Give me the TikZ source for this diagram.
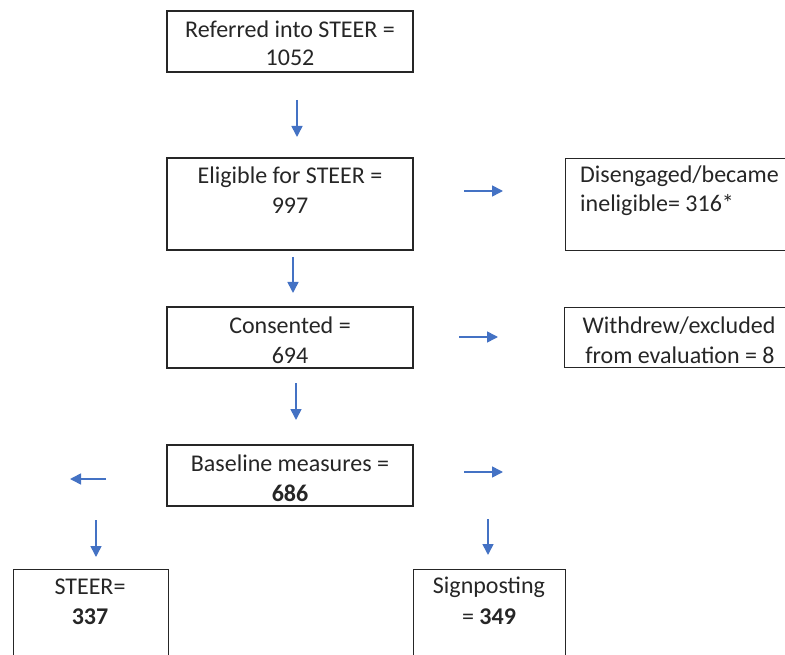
\documentclass[tikz,border=0pt]{standalone}
\usepackage{fontspec}
\setmainfont{Carlito}
\usetikzlibrary{arrows.meta}
\definecolor{arrowblue}{HTML}{4472C4}
\definecolor{boxline}{HTML}{262626}
\tikzset{
  box/.style={draw=boxline, line width=1.4pt, rectangle, inner sep=0pt},
  txt/.style={font=\fontsize{24}{29.5}\selectfont, inner sep=0pt, text=black!85},
  flow/.style={draw=arrowblue, line width=1.6pt, -{Triangle[length=11pt,width=11pt]}}
}
\begin{document}
\begin{tikzpicture}[x=1pt,y=-1pt]
\useasboundingbox (0,0) rectangle (785,655);
\begin{scope}
\clip (0,0) rectangle (785,655);
% main column boxes
\node[box, minimum width=246pt, minimum height=61pt] (b1) at (290,41.5) {};
\node[box, minimum width=246pt, minimum height=92pt] (b2) at (290,204) {};
\node[box, minimum width=246pt, minimum height=61pt] (b3) at (290,337.5) {};
\node[box, minimum width=246pt, minimum height=61pt] (b4) at (290,475.5) {};
% side boxes (cut by the right edge)
\node[box, minimum width=240pt, minimum height=92pt, anchor=north west] (s1) at (565,158) {};
\node[box, minimum width=232pt, minimum height=60pt, anchor=north west] (s2) at (564,307) {};
% bottom boxes (cut by the bottom edge)
\node[box, minimum width=155pt, minimum height=120pt, anchor=north west] (c1) at (13,569) {};
\node[box, minimum width=152pt, minimum height=120pt, anchor=north west] (c2) at (413,569) {};
\end{scope}
% texts
\node[txt] (t1a) at (290,29) {Referred into STEER =};
\node[txt] (t1b) at (290,58) {1052};
\node[txt] (t2a) at (290,177) {Eligible for STEER =};
\node[txt] (t2b) at (290,206) {997};
\node[txt] (t3a) at (290,325) {Consented =};
\node[txt] (t3b) at (290,355) {694};
\node[txt] (t4a) at (290,463) {Baseline measures =};
\node[txt] (t4b) at (290,493) {\bfseries 686};
\node[txt, anchor=west] (s1a) at (580,176) {Disengaged/became};
\node[txt, anchor=west] (s1b) at (580,205) {ineligible= 316*};
\node[txt] (s2a) at (679,326) {Withdrew/excluded};
\node[txt] (s2b) at (680,355) {from evaluation = 8};
\node[txt] (c1a) at (90,587) {STEER=};
\node[txt] (c1b) at (90,617) {\bfseries 337};
\node[txt] (c2a) at (489,587) {Signposting};
\node[txt] (c2b) at (489,617) {= {\bfseries 349}};
% arrow end points
\coordinate (a1s) at (297,100); \coordinate (a1e) at (297,137);
\coordinate (a2s) at (293,257); \coordinate (a2e) at (293,293);
\coordinate (a3s) at (296,383); \coordinate (a3e) at (296,420);
\coordinate (r1s) at (464,191); \coordinate (r1e) at (503,191);
\coordinate (r2s) at (459,337); \coordinate (r2e) at (498,337);
\coordinate (r3s) at (464,472); \coordinate (r3e) at (503,472);
\coordinate (l1s) at (106,479); \coordinate (l1e) at (70,479);
\coordinate (d1s) at (96,520); \coordinate (d1e) at (96,557);
\coordinate (d2s) at (488,519); \coordinate (d2e) at (488,555);
\draw[flow] (a1s) -- (a1e);
\draw[flow] (a2s) -- (a2e);
\draw[flow] (a3s) -- (a3e);
\draw[flow] (r1s) -- (r1e);
\draw[flow] (r2s) -- (r2e);
\draw[flow] (r3s) -- (r3e);
\draw[flow] (l1s) -- (l1e);
\draw[flow] (d1s) -- (d1e);
\draw[flow] (d2s) -- (d2e);
\end{tikzpicture}
\end{document}
